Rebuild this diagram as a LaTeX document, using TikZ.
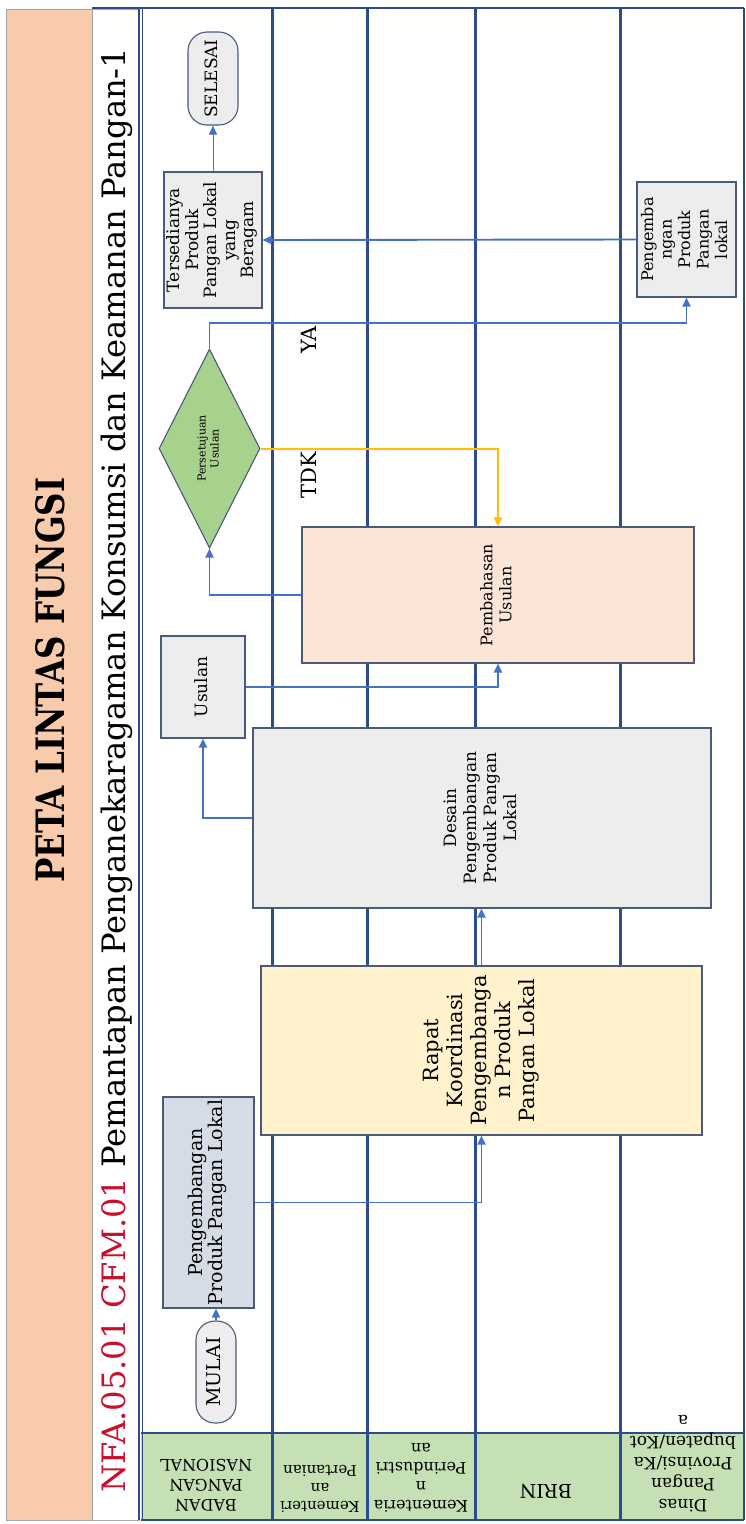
\documentclass[tikz,border=0pt]{standalone}
\usepackage{fontspec}
\setmainfont{DejaVu Serif}
\usepackage{graphicx}
\usetikzlibrary{arrows.meta,shapes.geometric}
\definecolor{bandpeach}{HTML}{F8CBAD}
\definecolor{headgreen}{HTML}{C5E0B4}
\definecolor{lanenavy}{HTML}{2E4C8C}
\definecolor{boxline}{HTML}{4A5A78}
\definecolor{connblue}{HTML}{4472C4}
\definecolor{connyellow}{HTML}{FFC000}
\definecolor{fillslate}{HTML}{D6DCE5}
\definecolor{fillcream}{HTML}{FFF2CC}
\definecolor{fillgrey}{HTML}{EDEDED}
\definecolor{fillpeach}{HTML}{FBE5D6}
\definecolor{fillgreen}{HTML}{A9D18E}
\definecolor{titlered}{HTML}{C8102E}
\newcommand{\vtext}[1]{\rotatebox{90}{\begin{tabular}{@{}c@{}}#1\end{tabular}}}
\newcommand{\utext}[1]{\rotatebox{180}{\begin{tabular}{@{}c@{}}#1\end{tabular}}}
\tikzset{
  procbox/.style={rectangle, draw=boxline, line width=1.1pt, inner sep=0pt,
                  font=\fontsize{16}{18}\selectfont},
  termbox/.style={rectangle, rounded corners=19pt, draw=boxline, line width=1.1pt,
                  fill=fillgrey, inner sep=0pt, font=\fontsize{17}{20}\selectfont},
  decbox/.style={diamond, draw=boxline, line width=1.1pt, fill=fillgreen,
                 inner sep=0pt, font=\fontsize{11}{13}\selectfont},
  conn/.style={-{Triangle[length=9pt,width=8pt]}, draw=connblue, line width=1.9pt},
  tdkconn/.style={-{Triangle[length=9pt,width=8pt]}, draw=connyellow, line width=2pt},
  laneline/.style={draw=lanenavy, line width=3pt},
  lanelabel/.style={inner sep=0pt, font=\fontsize{16}{20}\selectfont},
  branchlabel/.style={inner sep=0pt, font=\fontsize{21}{24}\selectfont},
}
\begin{document}
\begin{tikzpicture}[x=1pt,y=-1pt]
  \useasboundingbox (0,0) rectangle (746,1524);
  % frame
  \draw[gray!70, fill=bandpeach, line width=1pt] (6,9) rectangle (92,1520);
  \draw[gray!70, fill=white, line width=1pt] (92,9) rectangle (139,1520);
  \fill[headgreen] (141,1433) rectangle (744,1520);
  \draw[lanenavy, line width=1.4pt] (92,8) -- (744,8);
  \draw[lanenavy, line width=1.4pt] (139,8) -- (139,1520);
  \draw[lanenavy, line width=1.4pt] (142.5,8) -- (142.5,1520);
  \draw[lanenavy, line width=1.4pt] (141,1520) -- (744,1520);
  \draw[lanenavy, line width=1.4pt] (744,8) -- (744,1520);
  \draw[lanenavy, line width=2pt] (141,1433) -- (744,1433);
  \foreach \lx in {272,367,475,620}
    \draw[laneline] (\lx,8) -- (\lx,1520);

  % titles
  \node[inner sep=0pt] (peta) at (50,680)
    {\rotatebox{90}{\resizebox{405pt}{29pt}{\bfseries PETA LINTAS FUNGSI}}};
  \node[inner sep=0pt] (judul) at (117,770)
    {\rotatebox{90}{\resizebox{1445pt}{!}{\textcolor{titlered}{NFA.05.01 CFM.01} Pemantapan Penganekaragaman Konsumsi dan Keamanan Pangan-1}}};

  % lane labels
  \node[lanelabel, anchor=south] (lbadan) at (206,1514) {\utext{BADAN\\PANGAN\\NASIONAL}};
  \node[lanelabel, anchor=south, font=\fontsize{15}{18}\selectfont] (ltani) at (320,1514) {\utext{Kementeri\\an\\Pertanian}};
  \node[lanelabel, anchor=south, font=\fontsize{16}{19}\selectfont] (lindustri) at (421,1514) {\utext{Kementeria\\n\\Perindustri\\an}};
  \node[lanelabel, anchor=south, font=\fontsize{19}{22}\selectfont] (lbrin) at (546,1500) {\utext{BRIN}};
  \node[lanelabel, anchor=south, font=\fontsize{17}{21}\selectfont] (ldinas) at (683,1514) {\utext{Dinas\\Pangan\\Provinsi/Ka\\bupaten/Kot\\a}};

  % process
  \node[termbox, minimum width=40pt, minimum height=102pt, font=\fontsize{19}{22}\selectfont] (mulai) at (216,1372) {\vtext{MULAI}};
  \node[procbox, fill=fillslate, minimum width=91pt, minimum height=211pt,
        font=\fontsize{19}{20}\selectfont] (pbadan) at (208.5,1202.5)
    {\vtext{Pengembangan\\Produk Pangan Lokal}};
  \node[procbox, fill=fillcream, minimum width=441pt, minimum height=169pt,
        font=\fontsize{21}{24}\selectfont] (rapat) at (481.5,1050.5)
    {\vtext{Rapat\\Koordinasi\\Pengembanga\\n Produk\\Pangan Lokal}};
  \node[procbox, fill=fillgrey, minimum width=458pt, minimum height=180pt,
        font=\fontsize{17}{20}\selectfont] (desain) at (482,818)
    {\vtext{Desain\\Pengembangan\\Produk Pangan\\Lokal}};
  \node[procbox, fill=fillgrey, minimum width=84pt, minimum height=102pt,
        font=\fontsize{17}{20}\selectfont] (usulan) at (203,687)
    {\vtext{Usulan}};
  \node[procbox, fill=fillpeach, minimum width=392pt, minimum height=136pt,
        font=\fontsize{16}{19}\selectfont] (pembahasan) at (498,595)
    {\vtext{Pembahasan\\Usulan}};
  \node[decbox, minimum width=101pt, minimum height=199pt] (dec) at (209.5,448.5)
    {\vtext{Persetujuan\\Usulan}};
  \node[procbox, fill=fillgrey, minimum width=98pt, minimum height=136pt,
        font=\fontsize{17}{18.5}\selectfont] (tersedia) at (213,240)
    {\vtext{Tersedianya\\Produk\\Pangan Lokal\\yang\\Beragam}};
  \node[procbox, fill=fillgrey, minimum width=99pt, minimum height=115pt,
        font=\fontsize{16}{18.5}\selectfont] (pdinas) at (686.5,239.5)
    {\vtext{Pengemba\\ngan\\Produk\\Pangan\\lokal}};
  \node[termbox, minimum width=50pt, minimum height=93pt] (selesai) at (213,78.5) {\vtext{SELESAI}};

  \node[branchlabel] (ya) at (309,340) {\rotatebox{90}{YA}};
  \node[branchlabel] (tdk) at (309,475) {\rotatebox{90}{TDK}};
  \coordinate (yabend) at (209.5,323);

  % flows
  \draw[conn] (mulai.north) -- (mulai.north |- pbadan.south);
  \draw[conn] (pbadan.east) -| (rapat.south);
  \draw[conn] (rapat.north) -- (rapat.north |- desain.south);
  \draw[conn] (desain.west) -| (usulan.south);
  \draw[conn] (usulan.east) -| (pembahasan.south);
  \draw[conn] (pembahasan.west) -| (dec.south);
  \draw[conn] (dec.north) -- (yabend) -| (pdinas.south);
  \draw[tdkconn] (dec.east) -| (pembahasan.north);
  \draw[conn] (pdinas.west) -- (tersedia.east);
  \draw[conn, line width=1pt] (tersedia.north) -- (selesai.south);
\end{tikzpicture}
\end{document}
